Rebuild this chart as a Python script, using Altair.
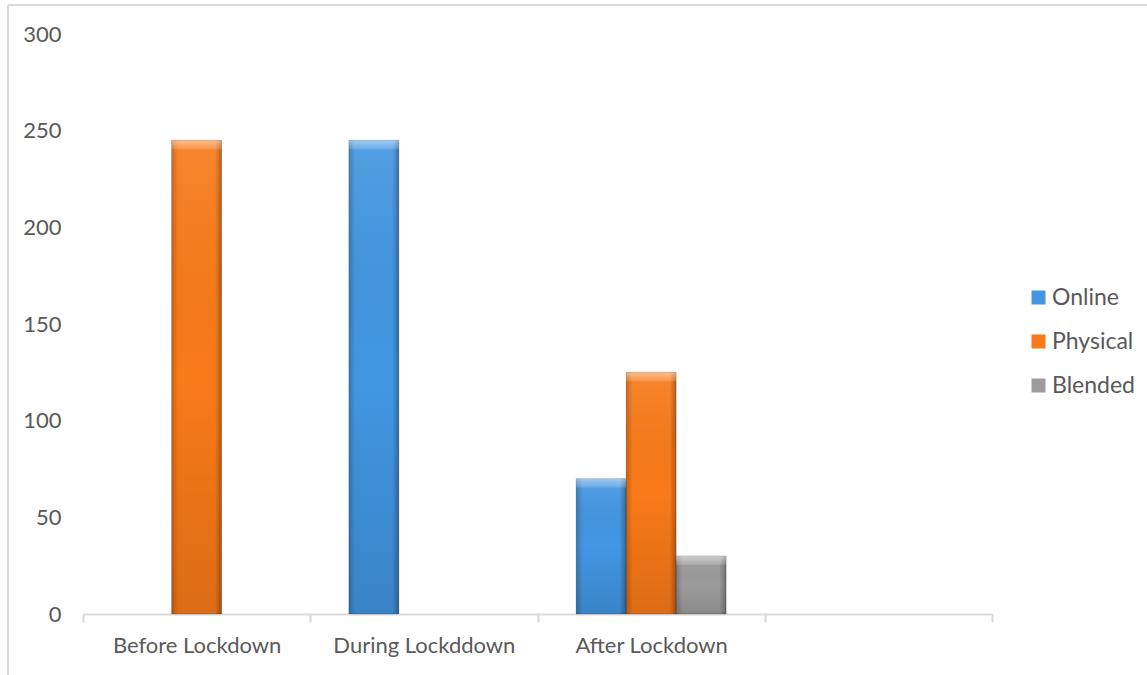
import altair as alt
import pandas as pd

# Teaching mode by period (number of respondents)
periods = ["Before Lockdown", "During Lockddown", "After Lockdown"]
modes = ["Online", "Physical", "Blended"]
online = [0, 245, 70]
physical = [245, 0, 125]
blended = [0, 0, 30]
mode_colors = ["#4296e2", "#f97a19", "#9c9c9c"]

rows = []
for i, p in enumerate(periods):
    for m, vals in zip(modes, [online, physical, blended]):
        rows.append({"period": p, "mode": m, "value": vals[i]})
df = pd.DataFrame(rows)

# an extra blank slot keeps the empty fourth category on the axis
x_domain = periods + [" "]

FONT = "Lato"
TEXT = "#595959"
AXIS_LINE = "#d9d9d9"

base = alt.Chart(df).transform_filter("datum.value > 0").encode(
    x=alt.X(
        "period:N",
        sort=x_domain,
        scale=alt.Scale(domain=x_domain, paddingInner=0, paddingOuter=0),
        axis=alt.Axis(
            title=None,
            labelAngle=0,
            labelFont=FONT,
            labelFontSize=22,
            labelColor=TEXT,
            labelPadding=13,
            labelLimit=400,
            domainColor=AXIS_LINE,
            domainWidth=2,
            tickColor=AXIS_LINE,
            tickWidth=2,
            tickSize=8,
            tickBand="extent",
            grid=False,
        ),
    ),
    xOffset=alt.XOffset(
        "mode:N",
        sort=modes,
        scale=alt.Scale(domain=modes, paddingInner=0, paddingOuter=0.7725),
    ),
    y=alt.Y(
        "value:Q",
        scale=alt.Scale(domain=[0, 300], nice=False),
        axis=alt.Axis(
            title=None,
            values=[0, 50, 100, 150, 200, 250, 300],
            labelFont=FONT,
            labelFontSize=22,
            labelColor=TEXT,
            labelPadding=22,
            domain=False,
            ticks=False,
            tickSize=0,
            grid=False,
        ),
    ),
)

bars = base.mark_bar().encode(
    color=alt.Color(
        "mode:N",
        sort=modes,
        scale=alt.Scale(domain=modes, range=mode_colors),
        legend=alt.Legend(
            title=None,
            orient="none",
            legendX=944,
            legendY=252,
            symbolType="square",
            symbolSize=196,
            symbolStrokeWidth=0,
            labelFont=FONT,
            labelFontSize=23,
            labelColor=TEXT,
            labelOffset=2,
            rowPadding=20,
        ),
    )
)

# shading: lighter top, darker bottom
vshade = base.mark_bar(
    fill=alt.Gradient(
        gradient="linear",
        x1=0, x2=0, y1=0, y2=1,
        stops=[
            alt.GradientStop(color="rgba(255,255,255,0.10)", offset=0),
            alt.GradientStop(color="rgba(0,0,0,0.0)", offset=0.5),
            alt.GradientStop(color="rgba(0,0,0,0.12)", offset=1),
        ],
    )
)

# darker bevel along the sides
hshade = base.mark_bar(
    fill=alt.Gradient(
        gradient="linear",
        x1=0, x2=1, y1=0, y2=0,
        stops=[
            alt.GradientStop(color="rgba(0,0,0,0.20)", offset=0),
            alt.GradientStop(color="rgba(0,0,0,0)", offset=0.13),
            alt.GradientStop(color="rgba(0,0,0,0)", offset=0.87),
            alt.GradientStop(color="rgba(0,0,0,0.28)", offset=1),
        ],
    ),
    stroke="rgba(0,0,0,0.18)",
    strokeWidth=1,
)

# light bevel along the top edge
topshade = base.mark_bar(
    y2Offset=9,
    fill=alt.Gradient(
        gradient="linear",
        x1=0, x2=0, y1=0, y2=1,
        stops=[
            alt.GradientStop(color="rgba(255,255,255,0.45)", offset=0),
            alt.GradientStop(color="rgba(255,255,255,0.12)", offset=1),
        ],
    ),
).encode(y2="value:Q")

# chart-area frame
frame_top = alt.Chart(df).mark_rule(color="#d9d9d9", strokeWidth=1.5).encode(
    x=alt.value(-75), x2=alt.value(1147), y=alt.value(-29)
)
frame_left = alt.Chart(df).mark_rule(color="#d9d9d9", strokeWidth=1.5).encode(
    x=alt.value(-75), y=alt.value(-29), y2=alt.value(700)
)

chart = (
    alt.layer(bars, vshade, hshade, topshade, frame_top, frame_left)
    .properties(
        width=909,
        height=580,
        autosize=alt.AutoSizeParams(type="none"),
        padding={"left": 83, "top": 34, "right": 155, "bottom": 61},
        background="white",
    )
    .configure_view(stroke=None)
)

chart.save("out.html", embed_options={"renderer": "svg", "actions": False})
